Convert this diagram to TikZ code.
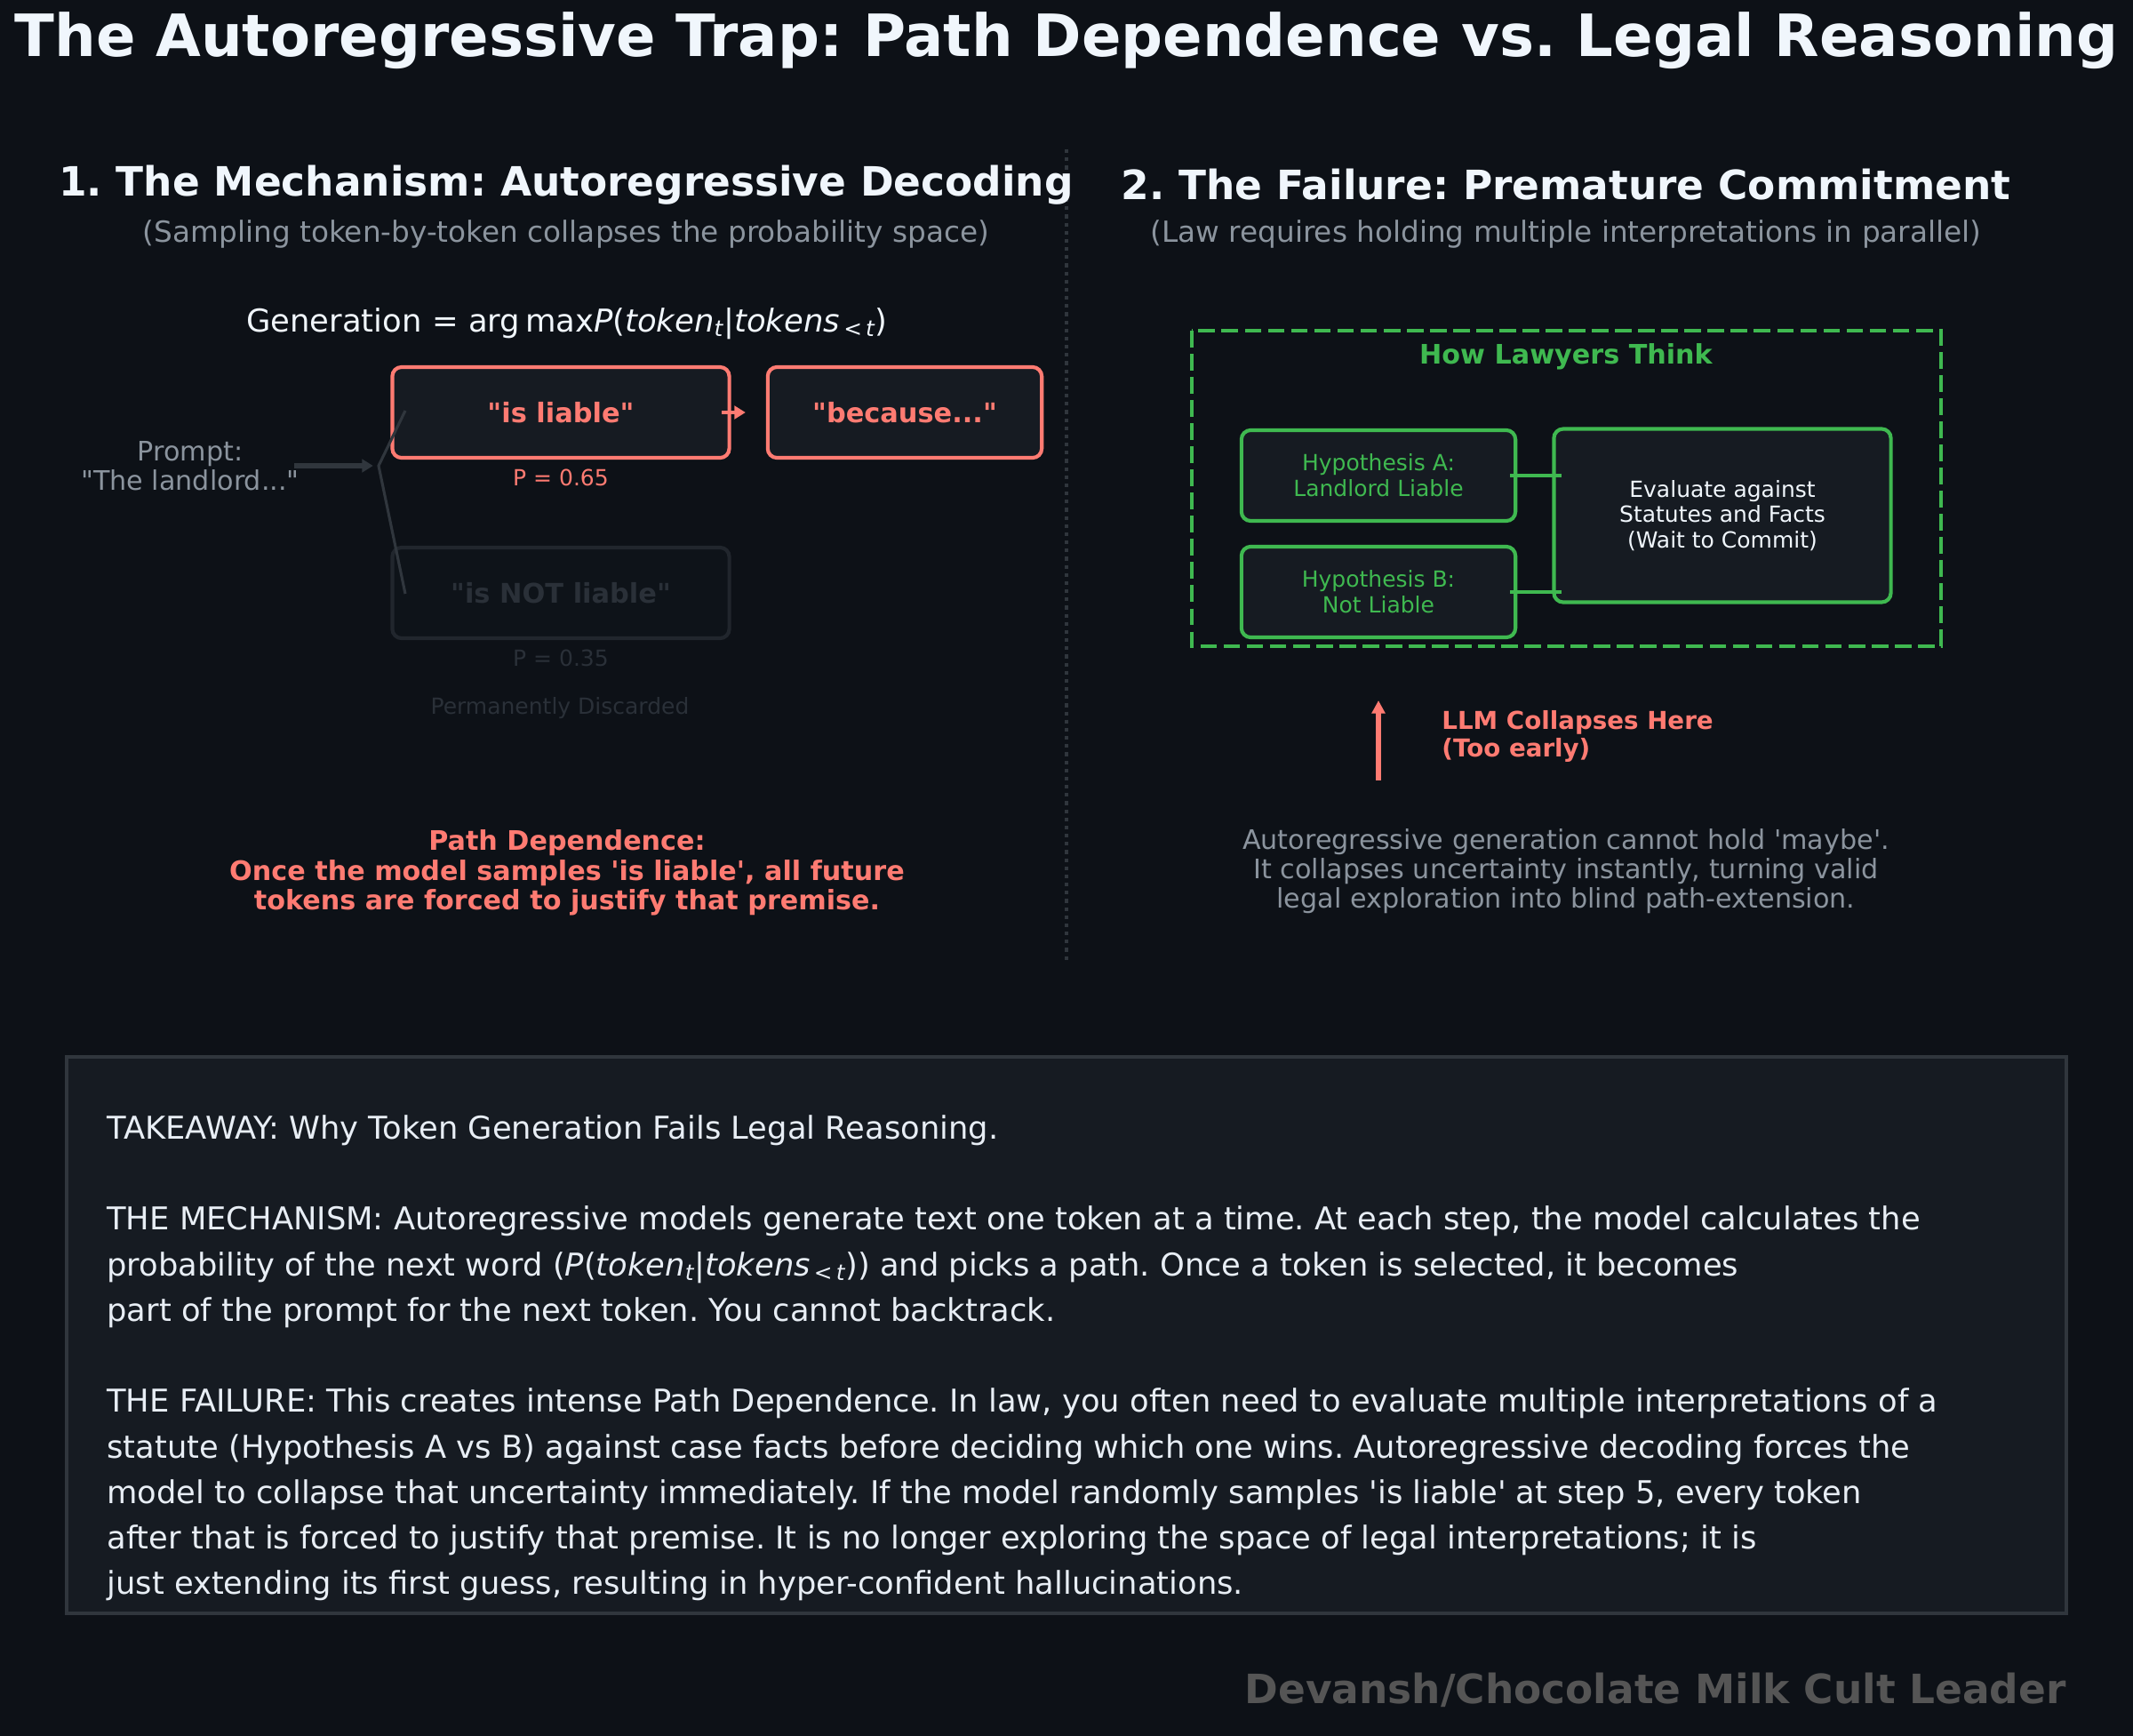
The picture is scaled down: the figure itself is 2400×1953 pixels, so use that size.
\documentclass[tikz,border=0pt]{standalone}
\usepackage{fontspec}
\setmainfont{DejaVu Sans}[Ligatures=TeXOff]
\usetikzlibrary{positioning}
\usetikzlibrary{arrows.meta}
\definecolor{bgdark}{HTML}{0D1117}
\definecolor{panelfill}{HTML}{161B22}
\definecolor{edgegray}{HTML}{30363D}
\definecolor{salmon}{HTML}{FF7B72}
\definecolor{lawgreen}{HTML}{3FB950}
\definecolor{mutedgray}{HTML}{8B949E}
\definecolor{brightwhite}{HTML}{F0F6FC}
\definecolor{fadededge}{HTML}{21262D}
\definecolor{fadedtext}{HTML}{2A3038}
\definecolor{footgray}{HTML}{555555}
\newcommand \fsz [2] {\fontsize{#1}{#2}\selectfont}
\newcommand \probexpr {\textit{P}(\textit{token}\textsubscript{\itshape t}|\textit{tokens}\textsubscript{\,<\,\itshape t})}
\frenchspacing
\tikzset{
	heading/.style={
		text=brightwhite,
		font=\bfseries\fsz{21.8}{26}
	},
	subheading/.style={
		text=mutedgray,
		font=\fsz{15.7}{18}
	},
	tokbox/.style={
		draw=salmon,
		line width=2pt,
		fill=panelfill,
		rounded corners=5pt,
		minimum height=49pt,
		text=salmon,
		font=\bfseries\fsz{14.6}{17}
	},
	tokfaded/.style={
		tokbox,
		draw=fadededge,
		fill=bgdark!85!panelfill,
		text=fadedtext
	},
	hypbox/.style={
		draw=lawgreen,
		line width=2pt,
		fill=panelfill,
		rounded corners=5pt,
		minimum width=148pt,
		minimum height=49pt,
		align=center,
		text=lawgreen,
		font=\fsz{12}{13.8}
	},
	lawlink/.style={
		draw=lawgreen,
		line width=2pt,
		shorten <=-4pt,
		shorten >=-5pt
	},
	sepline/.style={
		draw=edgegray,
		line width=1.6pt,
		dash pattern=on 2pt off 2.4pt
	}
}

\begin{document}
\frenchspacing
\begin{tikzpicture} [x=0.48pt, y=-0.48pt, inner sep=0pt]
	\useasboundingbox (0,0) rectangle (2400,1953);
	\fill[bgdark] (0,0) rectangle (2400,1953);
	\draw[sepline] (1200,168) -- (1200,1084);
	\node (title) at (1200,46) [text=brightwhite, font=\bfseries\fsz{31.5}{38}]
		{The Autoregressive Trap: Path Dependence vs. Legal Reasoning};

	% left panel
	\node (head1) at (637,208) [heading] {1. The Mechanism: Autoregressive Decoding};
	\node (sub1) at (637,263) [subheading] {(Sampling token-by-token collapses the probability space)};
	\node (formula) at (638,364) [text=brightwhite, font=\fsz{17}{20}]
		{Generation = arg\,max\probexpr};

	\node (liable) at (631,464) [tokbox, minimum width=182pt] {"is liable"};
	\node (because) at (1018,464) [tokbox, minimum width=148pt] {"because..."};
	\node (notliable) at (631,667) [tokfaded, minimum width=182pt] {"is NOT liable"};
	\node (pliable) [below=5pt of liable, text=salmon, font=\fsz{12}{14}] {P = 0.65};
	\node (pnot) [below=5pt of notliable, text=fadedtext, font=\fsz{12}{14}] {P = 0.35};
	\node (discard) at (630,797) [text=fadedtext, font=\fsz{12}{14}] {Permanently Discarded};

	\node (prompt) at (214,524) [text=mutedgray, align=center, font=\fsz{14.5}{16}]
		{Prompt:\\"The landlord..."};
	\coordinate (fork) at (426,524);
	\coordinate (topend) at (456,462);
	\coordinate (botend) at (456,668);
	\draw[edgegray, line width=3pt, -{Triangle[length=6pt, width=7pt]}, shorten <=-3pt, shorten >=3pt]
		(prompt.east) -- (fork);
	\draw[edgegray, line width=1.5pt] (topend) -- (fork) -- (botend);
	\draw[salmon, line width=2pt, -{Triangle[length=6pt, width=7pt]}, shorten <=-5pt, shorten >=11pt]
		(liable.east) -- (because.west);

	\node (pathdep) at (638,982) [text=salmon, align=center, font=\bfseries\fsz{14.5}{16}]
		{Path Dependence:\\Once the model samples 'is liable', all future\\tokens are forced to justify that premise.};

	% right panel
	\node (head2) at (1762,208) [heading] {2. The Failure: Premature Commitment};
	\node (sub2) at (1762,263) [subheading] {(Law requires holding multiple interpretations in parallel)};

	\draw[lawgreen, line width=2.2pt, dash pattern=on 9pt off 3.5pt] (1341,372) rectangle (2184,727);
	\node (howlaw) at (1762,401) [text=lawgreen, font=\bfseries\fsz{14.5}{17}] {How Lawyers Think};
	\node (hypa) at (1551,535) [hypbox] {Hypothesis A:\\Landlord Liable};
	\node (hypb) at (1551,666) [hypbox] {Hypothesis B:\\Not Liable};
	\node (evalbox) at (1938,580) [hypbox, text=brightwhite, minimum width=182pt, minimum height=93.6pt]
		{Evaluate against\\Statutes and Facts\\(Wait to Commit)};
	\draw[lawlink] (hypa.east) -- (hypa.east -| evalbox.west);
	\draw[lawlink] (hypb.east) -- (hypb.east -| evalbox.west);

	\coordinate (collapsefoot) at (1551,878);
	\coordinate (collapsetip) at (1551,788);
	\draw[salmon, line width=3pt, -{Triangle[length=7pt, width=7pt]}] (collapsefoot) -- (collapsetip);
	\node (collapse) at (1622,828) [anchor=west, text=salmon, align=left, font=\bfseries\fsz{13.3}{14.9}]
		{LLM Collapses Here\\(Too early)};

	\node (maybe) at (1762,980) [text=mutedgray, align=center, font=\fsz{14.5}{16}]
		{Autoregressive generation cannot hold 'maybe'.\\It collapses uncertainty instantly, turning valid\\legal exploration into blind path-extension.};

	% takeaway
	\draw[edgegray, line width=1.5pt, fill=panelfill] (75,1189) rectangle (2325,1815);
	\node (takeaway) at (120,1254) [anchor=north west, text=brightwhite!92!mutedgray, align=left, font=\fsz{16.95}{24.6}]
		{TAKEAWAY: Why Token Generation Fails Legal Reasoning.\\[24.6pt]
		THE MECHANISM: Autoregressive models generate text one token at a time. At each step, the model calculates the\\
		probability of the next word (\probexpr) and picks a path. Once a token is selected, it becomes\\
		part of the prompt for the next token. You cannot backtrack.\\[24.6pt]
		THE FAILURE: This creates intense Path Dependence. In law, you often need to evaluate multiple interpretations of a\\
		statute (Hypothesis A vs B) against case facts before deciding which one wins. Autoregressive decoding forces the\\
		model to collapse that uncertainty immediately. If the model randomly samples 'is liable' at step 5, every token\\
		after that is forced to justify that premise. It is no longer exploring the space of legal interpretations; it is\\
		just extending its first guess, resulting in hyper-confident hallucinations.};

	\node (credit) at (2325,1901) [anchor=east, text=footgray, font=\bfseries\fsz{21.8}{26}]
		{Devansh/Chocolate Milk Cult Leader};
\end{tikzpicture}
\end{document}
